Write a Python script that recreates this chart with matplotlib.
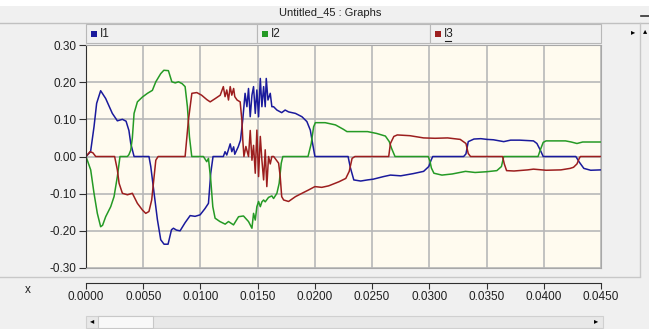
import matplotlib
matplotlib.use("Agg")
import matplotlib.pyplot as plt
from matplotlib.patches import Rectangle
from matplotlib.lines import Line2D

W, H = 649, 329

# phase currents, time in ms
i1_t = [0, 0.4, 0.7, 0.93, 1.28, 1.72, 2.3, 2.74, 3.18, 3.5, 3.75, 3.91, 4.2, 5.5, 5.66, 5.95,
        6.24, 6.53, 6.82, 7.17, 7.47, 7.64, 7.9, 8.22, 8.66, 9.1, 9.53, 9.97, 10.4, 10.7, 10.9,
        11.1, 12.0, 12.15, 12.3, 12.6, 12.74, 12.9, 13.0, 13.3, 13.5, 13.7, 13.9, 14.06, 14.2,
        14.35, 14.5, 14.64, 14.79, 14.93, 15.08, 15.23, 15.37, 15.52, 15.66, 15.75, 15.9, 16.1,
        16.24, 16.39, 16.68, 17.1, 17.4, 17.7, 18.3, 18.87, 19.3, 19.6, 19.8, 20.0, 22.9, 23.1,
        23.4, 24.0, 24.6, 25.1, 26.0, 26.6, 27.5, 28.6, 29.5, 29.95, 30.15, 30.3, 33.0, 33.2,
        33.4, 33.9, 34.5, 35.05, 35.6, 36.5, 37.1, 37.9, 38.5, 39.1, 39.4, 39.7, 39.95, 42.8,
        43.1, 43.5, 44.1, 45.0]
i1_v = [0, 0.013, 0.08, 0.143, 0.177, 0.156, 0.116, 0.096, 0.1, 0.095, 0.07, 0.035, 0.0, 0.0,
        -0.027, -0.099, -0.17, -0.224, -0.236, -0.236, -0.197, -0.193, -0.198, -0.2, -0.178,
        -0.159, -0.161, -0.157, -0.14, -0.126, -0.045, 0.0, 0.0, 0.013, 0.004, 0.034, 0.013,
        0.026, 0.006, 0.026, 0.044, 0.1, 0.17, 0.134, 0.183, 0.107, 0.165, 0.188, 0.116, 0.179,
        0.107, 0.21, 0.134, 0.188, 0.134, 0.21, 0.152, 0.17, 0.134, 0.134, 0.125, 0.118, 0.125,
        0.12, 0.116, 0.107, 0.094, 0.071, 0.035, 0.0, 0.0, -0.03, -0.063, -0.066, -0.063,
        -0.061, -0.054, -0.05, -0.052, -0.046, -0.04, -0.027, -0.01, 0.0, 0.0, 0.007, 0.04,
        0.047, 0.048, 0.046, 0.045, 0.04, 0.044, 0.044, 0.043, 0.042, 0.035, 0.017, 0.0, 0.0,
        -0.015, -0.032, -0.037, -0.036]

i2_t = [0, 0.41, 0.7, 0.99, 1.28, 1.45, 1.72, 2.16, 2.45, 2.74, 2.97, 3.62, 3.75, 3.91, 4.05,
        4.2, 4.49, 4.93, 5.37, 5.8, 6.1, 6.53, 6.8, 7.2, 7.5, 7.8, 8.08, 8.4, 8.66, 8.86, 9.04,
        9.24, 10.26, 10.55, 10.7, 10.9, 11.08, 11.28, 11.7, 12.16, 12.45, 12.89, 13.33, 13.76,
        14.2, 14.5, 14.64, 14.79, 14.93, 15.08, 15.23, 15.37, 15.52, 15.66, 15.95, 16.24,
        16.39, 16.68, 16.88, 17.06, 17.2, 19.4, 19.68, 19.89, 20.04, 20.9, 21.8, 22.5, 22.8,
        24.6, 25.4, 26.16, 26.5, 26.7, 27.0, 29.9, 30.05, 30.18, 30.4, 31.1, 32.0, 33.16, 34.0,
        35.0, 35.9, 36.3, 36.5, 39.5, 39.7, 39.95, 40.2, 41.9, 42.4, 42.9, 43.4, 45.0]
i2_v = [0, -0.036, -0.099, -0.153, -0.189, -0.185, -0.162, -0.135, -0.108, -0.054, 0.0, 0.0,
        0.005, 0.017, 0.05, 0.116, 0.147, 0.16, 0.17, 0.178, 0.201, 0.223, 0.232, 0.231, 0.201,
        0.198, 0.201, 0.196, 0.188, 0.134, 0.053, 0.0, 0.0, -0.014, -0.005, -0.063, -0.135,
        -0.166, -0.175, -0.182, -0.175, -0.184, -0.162, -0.16, -0.175, -0.193, -0.153, -0.171,
        -0.135, -0.121, -0.135, -0.122, -0.117, -0.122, -0.11, -0.106, -0.113, -0.099, -0.072,
        -0.018, 0.0, 0.0, 0.035, 0.08, 0.091, 0.091, 0.085, 0.073, 0.067, 0.067, 0.062, 0.055,
        0.04, 0.022, 0.0, 0.0, -0.012, -0.031, -0.045, -0.05, -0.047, -0.04, -0.043, -0.041,
        -0.038, -0.027, 0.0, 0.0, 0.018, 0.038, 0.042, 0.042, 0.039, 0.035, 0.039, 0.039]

i3_t = [0, 0.35, 0.6, 0.85, 2.5, 2.74, 2.89, 3.18, 3.62, 4.05, 4.49, 4.93, 5.22, 5.5, 5.74,
        5.89, 6.1, 6.3, 8.66, 8.95, 9.25, 9.68, 10.1, 10.56, 10.85, 11.3, 11.73, 12.0, 12.15,
        12.3, 12.45, 12.6, 12.74, 12.9, 13.0, 13.2, 13.47, 13.62, 13.7, 13.8, 13.97, 14.2,
        14.35, 14.5, 14.64, 14.79, 14.93, 15.08, 15.23, 15.37, 15.52, 15.66, 15.8, 15.95, 16.1,
        16.24, 16.4, 16.83, 16.97, 17.1, 17.27, 17.7, 18.3, 18.87, 19.45, 20.0, 20.6, 21.2,
        22.1, 22.7, 23.0, 23.25, 23.5, 26.45, 26.6, 26.9, 27.2, 28.3, 29.5, 30.5, 31.6, 32.7,
        33.2, 33.4, 33.6, 36.4, 36.55, 36.75, 37.4, 38.6, 39.1, 40.2, 41.5, 42.3, 42.6, 42.9,
        43.1, 43.2, 45.0]
i3_v = [0, 0.013, 0.01, 0.0, 0.0, -0.036, -0.072, -0.099, -0.103, -0.099, -0.126, -0.144,
        -0.153, -0.148, -0.117, -0.072, -0.01, 0.0, 0.0, 0.098, 0.17, 0.172, 0.165, 0.153,
        0.147, 0.156, 0.165, 0.188, 0.161, 0.179, 0.152, 0.188, 0.165, 0.183, 0.161, 0.152,
        0.147, 0.098, 0.044, 0.0, 0.027, 0.0, 0.07, -0.01, 0.03, -0.045, 0.071, -0.054, 0.054,
        -0.01, -0.063, 0.018, -0.081, 0.0, -0.02, 0.0, 0.0, -0.018, -0.054, -0.108, -0.117,
        -0.121, -0.108, -0.099, -0.09, -0.081, -0.083, -0.079, -0.068, -0.059, -0.04, -0.005,
        0.0, 0.0, 0.035, 0.054, 0.058, 0.056, 0.05, 0.049, 0.05, 0.046, 0.035, 0.008, 0.0, 0.0,
        -0.02, -0.038, -0.039, -0.036, -0.034, -0.037, -0.036, -0.032, -0.029, -0.02, -0.005,
        0.0, 0.0]

names = ["I1", "I2", "I3"]
colors = ["#1a1a9c", "#259a25", "#9c1e1e"]
x_ticks = [0.0, 0.005, 0.010, 0.015, 0.020, 0.025, 0.030, 0.035, 0.040, 0.045]
y_ticks = [-0.30, -0.20, -0.10, 0.00, 0.10, 0.20, 0.30]

plt.rcParams["font.family"] = ["Liberation Sans", "DejaVu Sans"]
fig = plt.figure(figsize=(W / 100, H / 100), dpi=100, facecolor="#f0f0f0")


def box(x0, y0, x1, y1):
    return [x0 / W, 1 - y1 / H, (x1 - x0) / W, (y1 - y0) / H]


def frect(x0, y0, x1, y1, fc, ec="none", lw=0.8, z=0):
    fig.add_artist(Rectangle((x0 / W, 1 - y1 / H), (x1 - x0) / W, (y1 - y0) / H,
                             transform=fig.transFigure, fc=fc, ec=ec, lw=lw, zorder=z))


def fline(xs, ys, c, lw=1.0, z=1):
    fig.add_artist(Line2D([x / W for x in xs], [1 - y / H for y in ys],
                          transform=fig.transFigure, color=c, lw=lw, zorder=z))


def ftext(x, y, s, **kw):
    fig.text(x / W, 1 - y / H, s, **kw)


# window chrome
frect(0, 0, W, 6, "white")
fline([0, W], [22.5, 22.5], "#c0c0c0")
ftext(330, 13, "Untitled_45 : Graphs", fontsize=8, ha="center", va="center", color="#202020")
fline([641, 649], [16, 16], "#303030", lw=1.2)
ftext(633, 33, "\u25b8", fontsize=6, ha="center", va="center", color="black")
ftext(645, 32, "\u25b4", fontsize=6, ha="center", va="center", color="black")
fline([640, 640], [23, 276], "#c8c8c8")
fline([0, 640], [276.5, 276.5], "#c8c8c8")

# legend header
tabs = [(86, 257), (257, 430), (430, 601)]
for (xa, xb), name, c in zip(tabs, names, colors):
    frect(xa, 24, xb, 43, "#f0f0f0", ec="#b8b8b8", lw=0.8)
    frect(xa + 5, 31, xa + 11, 37, c)
    ftext(xa + 14, 34, name, fontsize=8.5, ha="left", va="center", color="#202020")
fline([445, 451], [41, 41], "#202020", lw=0.8)

# main plot
ax = fig.add_axes(box(86, 45, 601, 268))
ax.set_facecolor("#fffbef")
for t, v, c in zip([i1_t, i2_t, i3_t], [i1_v, i2_v, i3_v], colors):
    ax.plot([x / 1000 for x in t], v, color=c, lw=1.1)
ax.set_xlim(0, 0.045)
ax.set_ylim(-0.3, 0.3)
ax.set_xticks(x_ticks)
ax.set_yticks(y_ticks)
ax.set_yticklabels(["%.2f" % y for y in y_ticks])
ax.set_axisbelow(True)
ax.grid(color="#b8b8b8", lw=1.2)
ax.tick_params(axis="x", length=0, labelbottom=False)
ax.tick_params(axis="y", length=5, width=0.8, color="#303030", labelsize=8.5,
               pad=2, labelcolor="#202020")
for side in ["top", "right", "bottom"]:
    ax.spines[side].set_color("#a8a8a8")
ax.spines["left"].set_color("#303030")

# x ruler below the plot
rax = fig.add_axes(box(86, 283, 601, 283.01))
rax.set_facecolor("none")
rax.set_xlim(0, 0.045)
rax.set_yticks([])
rax.set_xticks(x_ticks)
rax.set_xticklabels(["%.4f" % x for x in x_ticks])
for side in ["top", "right", "left"]:
    rax.spines[side].set_visible(False)
rax.spines["bottom"].set_color("#303030")
rax.tick_params(axis="x", length=4, width=0.8, color="#303030", labelsize=8.5, pad=2,
                labelcolor="#202020")
ftext(28, 290, "x", fontsize=8.5, ha="center", va="center", color="#202020")

# horizontal scrollbar
frect(86, 316, 603, 328, "#e8e8e8", ec="#d0d0d0")
frect(98, 316, 153, 328, "#f8f8f8", ec="#c8c8c8")
ftext(92, 322, "\u25c2", fontsize=6, ha="center", va="center", color="black")
ftext(596, 322, "\u25b8", fontsize=6, ha="center", va="center", color="black")

fig.savefig("out.png", dpi=100, facecolor=fig.get_facecolor())
